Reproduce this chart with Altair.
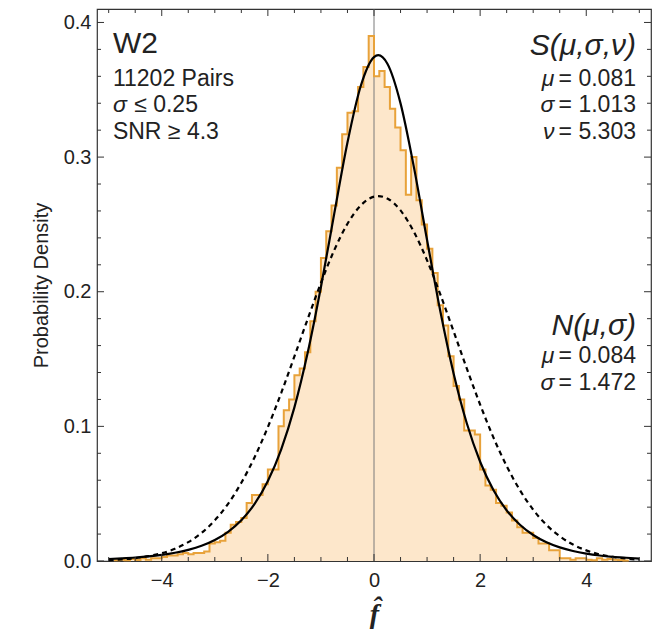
import altair as alt
import pandas as pd

# ---------------- data ----------------
hist_start = -4.9
hist_width = 0.1
hist_density = [
    0.0005, 0.001, 0.0005, 0.0015, 0.0008, 0.002, 0.001, 0.002, 0.002, 0.003,   # -4.9 .. -4.0
    0.004, 0.004, 0.005, 0.006, 0.005, 0.006, 0.006, 0.007, 0.013, 0.014,       # -3.9 .. -3.0
    0.015, 0.021, 0.027, 0.029, 0.032, 0.043, 0.049, 0.049, 0.057, 0.068,       # -2.9 .. -2.0
    0.068, 0.100, 0.112, 0.120, 0.138, 0.143, 0.155, 0.178, 0.200, 0.225,       # -1.9 .. -1.0
    0.245, 0.264, 0.292, 0.317, 0.333, 0.334, 0.352, 0.367, 0.390,              # -0.9 .. -0.1
    0.360, 0.364, 0.352, 0.336, 0.322, 0.305, 0.272, 0.300, 0.268, 0.250,       # 0.0 .. 0.9
    0.232, 0.214, 0.190, 0.175, 0.152, 0.130, 0.120, 0.097, 0.097, 0.094,       # 1.0 .. 1.9
    0.068, 0.056, 0.053, 0.043, 0.041, 0.036, 0.030, 0.025, 0.021, 0.021,       # 2.0 .. 2.9
    0.017, 0.013, 0.013, 0.008, 0.008, 0.002, 0.002, 0.001, 0.002, 0.002,       # 3.0 .. 3.9
    0.001, 0.0005, 0.002, 0.001, 0.0015, 0.001, 0.0008, 0.0003,                 # 4.0 .. 4.7
]

curve_x = [-5, -4.75, -4.5, -4.25, -4, -3.75, -3.5, -3.25, -3, -2.75, -2.5, -2.25,
           -2, -1.75, -1.5, -1.25, -1, -0.75, -0.5, -0.25, 0, 0.08, 0.25, 0.5, 0.75,
           1, 1.25, 1.5, 1.75, 2, 2.25, 2.5, 2.75, 3, 3.25, 3.5, 3.75, 4, 4.25, 4.5,
           4.75, 5]
student_t = [0.0015, 0.0020, 0.0026, 0.0034, 0.0045, 0.0061, 0.0083, 0.0113, 0.0156,
             0.0217, 0.0303, 0.0424, 0.0594, 0.0828, 0.1141, 0.1546, 0.2035, 0.2578,
             0.3108, 0.3528, 0.3743, 0.3757, 0.3695, 0.3399, 0.2929, 0.2384, 0.1855,
             0.1393, 0.1021, 0.0737, 0.0527, 0.0376, 0.0269, 0.0193, 0.0139, 0.0101,
             0.0074, 0.0055, 0.0041, 0.0031, 0.0024, 0.0018]
normal = [0.0007, 0.0012, 0.0021, 0.0036, 0.0058, 0.0091, 0.0140, 0.0208, 0.0302,
          0.0425, 0.0581, 0.0771, 0.0995, 0.1247, 0.1519, 0.1797, 0.2066, 0.2308,
          0.2505, 0.2641, 0.2706, 0.2710, 0.2693, 0.2604, 0.2446, 0.2233, 0.1980,
          0.1706, 0.1428, 0.1162, 0.0918, 0.0705, 0.0526, 0.0381, 0.0268, 0.0184,
          0.0122, 0.0079, 0.0049, 0.0030, 0.0018, 0.0010]

x_labels = [-4, -2, 0, 2, 4]
x_minor = [-5, -4.5, -3.5, -3, -2.5, -1.5, -1, -0.5, 0.5, 1, 1.5, 2.5, 3, 3.5, 4.5, 5]
y_labels = [0.0, 0.1, 0.2, 0.3, 0.4]
y_minor = [0.02, 0.04, 0.06, 0.08, 0.12, 0.14, 0.16, 0.18, 0.22, 0.24, 0.26, 0.28,
           0.32, 0.34, 0.36, 0.38]

# annotation texts
left_title = "W2"
left_lines = ["11202 Pairs", "SNR \u2265 4.3"]
sigma_cut = "\u2264 0.25"
t_title = "S(\u03bc,\u03c3,\u03bd)"
t_params = ["= 0.081", "= 1.013", "= 5.303"]
t_symbols = ["\u03bc", "\u03c3", "\u03bd"]
n_title = "N(\u03bc,\u03c3)"
n_params = ["= 0.084", "= 1.472"]
n_symbols = ["\u03bc", "\u03c3"]

# ---------------- layout / style ----------------
W, H = 554, 552
X_DOMAIN = [-5.22, 5.22]
Y_DOMAIN = [0, 0.41]
FONT = "Liberation Sans"
TXT = "#222222"
FRAME = "#333333"
FILL = "#FDE7CB"
STEP = "#E8A23A"

xs = alt.Scale(domain=X_DOMAIN, nice=False, zero=False)
ys = alt.Scale(domain=Y_DOMAIN, nice=False, zero=False)

edges = [round(hist_start + i * hist_width, 2) for i in range(len(hist_density) + 1)]
hist_df = pd.DataFrame({"x": edges, "d": hist_density + [hist_density[-1]]})
curve_df = pd.DataFrame({"x": curve_x, "t": student_t, "n": normal})

x_axis = alt.Axis(values=x_labels, format="d", ticks=False, domain=False, grid=False,
                  labelFont=FONT, labelFontSize=20, labelColor=TXT, labelPadding=9,
                  title="f\u0302", titleFont="Liberation Serif", titleFontSize=28,
                  titleFontStyle="italic", titleFontWeight="bold", titleColor=TXT,
                  titlePadding=10)
y_axis = alt.Axis(values=y_labels, format=".1f", ticks=False, domain=False, grid=False,
                  labelFont=FONT, labelFontSize=20, labelColor=TXT, labelPadding=6,
                  title="Probability Density", titleFont=FONT, titleFontSize=20,
                  titleFontWeight="normal", titleColor=TXT, titlePadding=12)


def X(field):
    return alt.X(field, scale=xs, axis=x_axis)


def Y(field):
    return alt.Y(field, scale=ys, axis=y_axis)


area = alt.Chart(hist_df).mark_area(interpolate="step-after", color=FILL, opacity=1).encode(
    x=X("x:Q"), y=Y("d:Q"))
step = alt.Chart(hist_df).mark_line(interpolate="step-after", color=STEP, strokeWidth=2).encode(
    x=X("x:Q"), y=Y("d:Q"))
zero_line = alt.Chart(pd.DataFrame({"v": [0]})).mark_rule(color="#7a7a7a", strokeWidth=1).encode(
    x=X("v:Q"), y=alt.value(0), y2=alt.value(H))

t_line = alt.Chart(curve_df).mark_line(color="black", strokeWidth=2.2, interpolate="monotone").encode(
    x=X("x:Q"), y=Y("t:Q"))
n_line = alt.Chart(curve_df).mark_line(color="black", strokeWidth=2.2, strokeDash=[5, 4],
                                       interpolate="monotone").encode(
    x=X("x:Q"), y=Y("n:Q"))


def xticks(vals, length, top):
    y0, y1 = (0, length) if top else (H, H - length)
    return alt.Chart(pd.DataFrame({"v": vals})).mark_rule(color=FRAME, strokeWidth=1).encode(
        x=X("v:Q"), y=alt.value(y0), y2=alt.value(y1))


def yticks(vals, length, right):
    x0, x1 = (W, W - length) if right else (0, length)
    return alt.Chart(pd.DataFrame({"v": vals})).mark_rule(color=FRAME, strokeWidth=1).encode(
        y=Y("v:Q"), x=alt.value(x0), x2=alt.value(x1))


ticks = [xticks(x_labels, 7, False), xticks(x_minor, 4, False),
         xticks(x_labels, 7, True), xticks(x_minor, 4, True),
         yticks(y_labels, 7, False), yticks(y_minor, 4, False),
         yticks(y_labels, 7, True), yticks(y_minor, 4, True)]


def text(xv, yv, s, size, align="left", style="normal"):
    return alt.Chart(pd.DataFrame({"x": [xv], "y": [yv], "s": [s]})).mark_text(
        align=align, baseline="alphabetic", font=FONT, fontSize=size, color=TXT,
        fontStyle=style).encode(x=X("x:Q"), y=Y("y:Q"), text="s:N")


LX = -4.92
RX = 4.937
GX = 3.40
rows = [0.3528, 0.3335, 0.3134]
texts = [
    text(LX, 0.3773, left_title, 30),
    text(LX, rows[0], left_lines[0], 23),
    text(LX, rows[1], "\u03c3", 23, style="italic"),
    text(-4.52, rows[1], sigma_cut, 23),
    text(LX, rows[2], left_lines[1], 23),
    text(RX, 0.3758, t_title, 30, align="right", style="italic"),
]
for yv, sym, par in zip(rows, t_symbols, t_params):
    texts.append(text(GX, yv, sym, 23, align="right", style="italic"))
    texts.append(text(RX, yv, par, 23, align="right"))
texts.append(text(RX, 0.1679, n_title, 30, align="right", style="italic"))
for yv, sym, par in zip([0.1471, 0.1270], n_symbols, n_params):
    texts.append(text(GX, yv, sym, 23, align="right", style="italic"))
    texts.append(text(RX, yv, par, 23, align="right"))

chart = alt.layer(area, zero_line, step, n_line, t_line, *ticks, *texts).properties(
    width=W, height=H,
    autosize=alt.AutoSizeParams(type="none"),
    padding={"left": 97, "top": 9, "right": 13, "bottom": 76},
    background="white",
).configure_view(stroke=FRAME, strokeWidth=1.2)

chart.save("out.html", embed_options={"renderer": "svg", "actions": False})
